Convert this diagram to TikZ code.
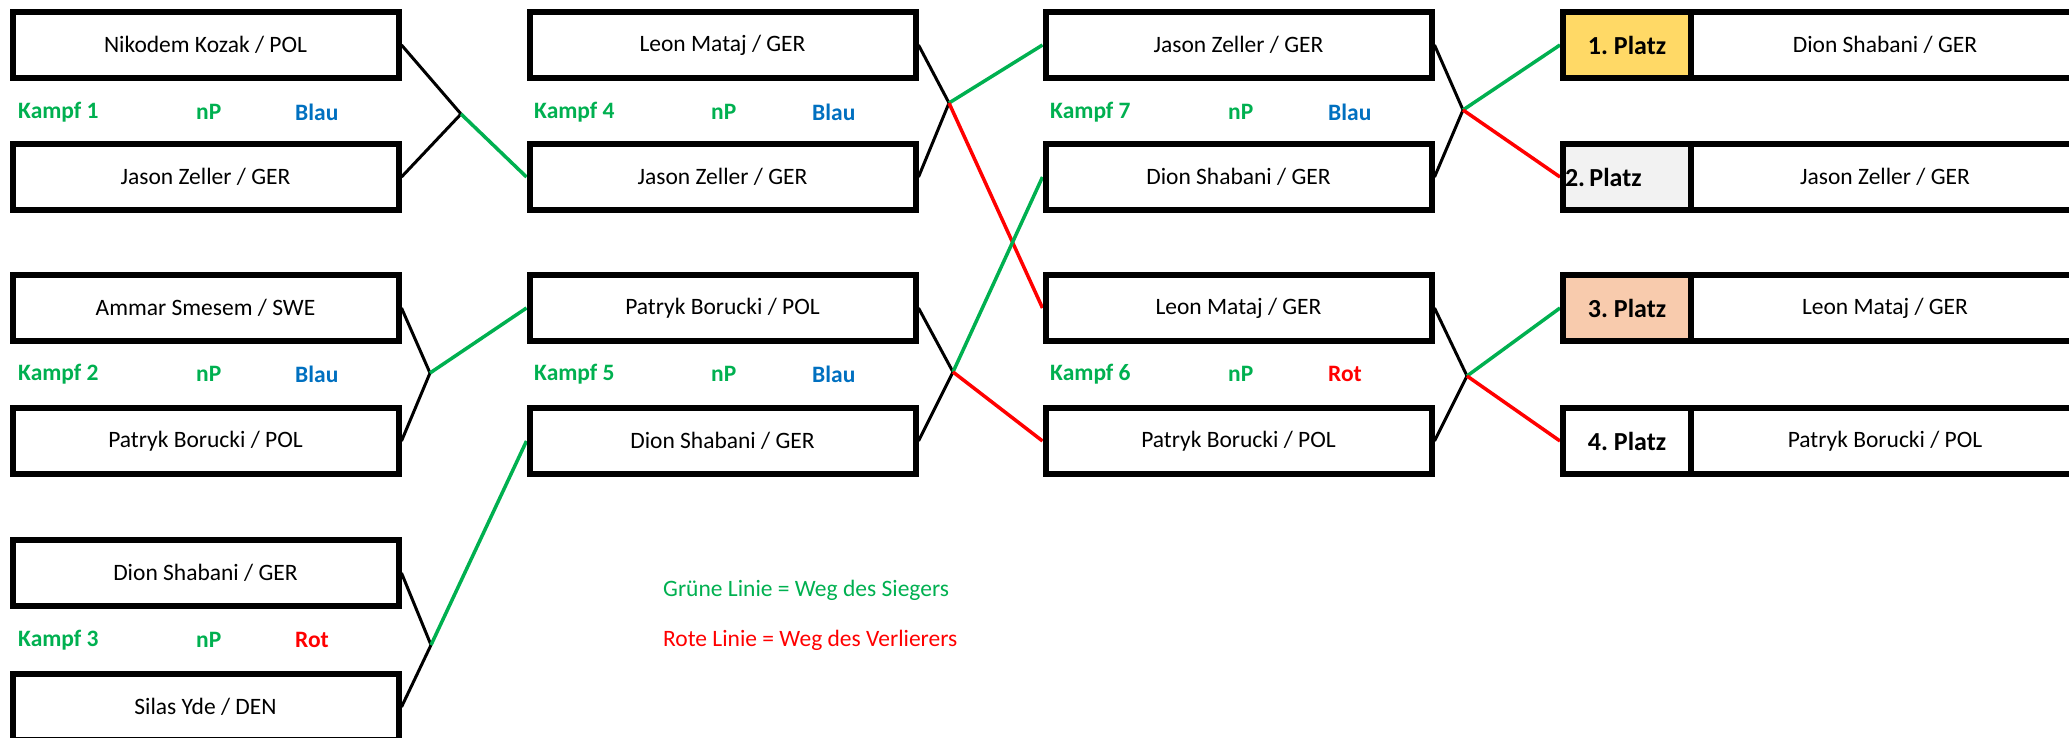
\documentclass[tikz,border=0pt]{standalone}
\usepackage{fontspec}
\setmainfont{Carlito}
\usetikzlibrary{backgrounds}
\definecolor{kgreen}{HTML}{00B050}
\definecolor{kblue}{HTML}{0070C0}
\definecolor{kred}{HTML}{FF0000}
\definecolor{gold}{HTML}{FFD966}
\definecolor{silver}{HTML}{F2F2F2}
\definecolor{bronze}{HTML}{F8CBAD}
\tikzset{
	namebox/.style={draw, line width=6pt, fill=white, minimum width=386pt, minimum height=66pt, inner sep=0pt},
	platzbox/.style={draw, line width=6pt, minimum width=128pt, minimum height=66pt, inner sep=0pt, font=\bfseries\fontsize{26}{30}\selectfont},
	fightlbl/.style={anchor=west, inner sep=0pt, font=\bfseries},
	blackline/.style={line width=3pt},
	winline/.style={line width=3.5pt, draw=kgreen},
	loseline/.style={line width=3.5pt, draw=kred}
}

\begin{document}
\frenchspacing
\fontsize{23.5}{28}\selectfont
\begin{tikzpicture}[x=1pt, y=-1pt]
		%%%%% START %%%%%
		\useasboundingbox (0,0) rectangle (2069,738);
		
		% Runde 1
		\node[namebox] (a1) at (205.5,45) {Nikodem Kozak / POL};
		\node[namebox] (a2) at (205.5,177) {Jason Zeller / GER};
		\node[namebox] (a3) at (205.5,308) {Ammar Smesem / SWE};
		\node[namebox] (a4) at (205.5,441) {Patryk Borucki / POL};
		\node[namebox] (a5) at (205.5,573) {Dion Shabani / GER};
		\node[namebox] (a6) at (205.5,707) {Silas Yde / DEN};
		
		\node[fightlbl, kgreen] (k1) at (18,112) {Kampf 1};
		\node[fightlbl, kgreen] (k1np) at (196,112) {nP};
		\node[fightlbl, kblue] (k1res) at (295,112) {Blau};
		\node[fightlbl, kgreen] (k2) at (18,374) {Kampf 2};
		\node[fightlbl, kgreen] (k2np) at (196,374) {nP};
		\node[fightlbl, kblue] (k2res) at (295,374) {Blau};
		\node[fightlbl, kgreen] (k3) at (18,640) {Kampf 3};
		\node[fightlbl, kgreen] (k3np) at (196,640) {nP};
		\node[fightlbl, kred] (k3res) at (295,640) {Rot};
		
		% Runde 2
		\node[namebox] (b1) at (722.5,45) {Leon Mataj / GER};
		\node[namebox] (b2) at (722.5,177) {Jason Zeller / GER};
		\node[namebox] (b3) at (722.5,308) {Patryk Borucki / POL};
		\node[namebox] (b4) at (722.5,441) {Dion Shabani / GER};
		
		\node[fightlbl, kgreen] (k4) at (534,112) {Kampf 4};
		\node[fightlbl, kgreen] (k4np) at (711,112) {nP};
		\node[fightlbl, kblue] (k4res) at (812,112) {Blau};
		\node[fightlbl, kgreen] (k5) at (534,374) {Kampf 5};
		\node[fightlbl, kgreen] (k5np) at (711,374) {nP};
		\node[fightlbl, kblue] (k5res) at (812,374) {Blau};
		
		% Runde 3
		\node[namebox] (c1) at (1238.5,45) {Jason Zeller / GER};
		\node[namebox] (c2) at (1238.5,177) {Dion Shabani / GER};
		\node[namebox] (c3) at (1238.5,308) {Leon Mataj / GER};
		\node[namebox] (c4) at (1238.5,441) {Patryk Borucki / POL};
		
		\node[fightlbl, kgreen] (k7) at (1050,112) {Kampf 7};
		\node[fightlbl, kgreen] (k7np) at (1228,112) {nP};
		\node[fightlbl, kblue] (k7res) at (1328,112) {Blau};
		\node[fightlbl, kgreen] (k6) at (1050,374) {Kampf 6};
		\node[fightlbl, kgreen] (k6np) at (1228,374) {nP};
		\node[fightlbl, kred] (k6res) at (1328,374) {Rot};
		
		% Platzierungen
		\node[platzbox, fill=gold] (p1) at (1627,45) {1. Platz};
		\node[platzbox, fill=silver, text width=124pt, align=left] (p2) at (1627,177) {\raisebox{-9pt}{2.\,Platz}};
		\node[platzbox, fill=bronze] (p3) at (1627,308) {3. Platz};
		\node[platzbox, fill=white] (p4) at (1627,441) {4. Platz};
		\node[namebox, minimum width=388pt] (d1) at (1885,45) {Dion Shabani / GER};
		\node[namebox, minimum width=388pt] (d2) at (1885,177) {Jason Zeller / GER};
		\node[namebox, minimum width=388pt] (d3) at (1885,308) {Leon Mataj / GER};
		\node[namebox, minimum width=388pt] (d4) at (1885,441) {Patryk Borucki / POL};
		
		% Legende
		\node[anchor=west, inner sep=0pt, kgreen] (lg) at (663,590) {Grüne Linie = Weg des Siegers};
		\node[anchor=west, inner sep=0pt, kred] (lr) at (663,640) {Rote Linie = Weg des Verlierers};
		
		\coordinate (j1) at (461,114);
		\coordinate (j2) at (430,373);
		\coordinate (j3) at (431,645);
		\coordinate (j4) at (949,103);
		\coordinate (j5) at (953,372);
		\coordinate (j6) at (1467,376);
		\coordinate (j7) at (1463,110);
		
		\begin{pgfonlayer}{background}
		\draw[blackline] (a1.east) -- (j1) (a2.east) -- (j1);
		\draw[winline] (j1) -- (b2.west);
		\draw[blackline] (a3.east) -- (j2) (a4.east) -- (j2);
		\draw[winline] (j2) -- (b3.west);
		\draw[blackline] (a5.east) -- (j3) (a6.east) -- (j3);
		\draw[winline] (j3) -- (b4.west);
		
		\draw[blackline] (b1.east) -- (j4) (b2.east) -- (j4);
		\draw[winline] (j4) -- (c1.west);
		\draw[loseline] (j4) -- (c3.west);
		\draw[blackline] (b3.east) -- (j5) (b4.east) -- (j5);
		\draw[winline] (j5) -- (c2.west);
		\draw[loseline] (j5) -- (c4.west);
		
		\draw[blackline] (c1.east) -- (j7) (c2.east) -- (j7);
		\draw[winline] (j7) -- (p1.west);
		\draw[loseline] (j7) -- (p2.west);
		\draw[blackline] (c3.east) -- (j6) (c4.east) -- (j6);
		\draw[winline] (j6) -- (p3.west);
		\draw[loseline] (j6) -- (p4.west);
		\end{pgfonlayer}
		%%%%% END %%%%%
\end{tikzpicture}
\end{document}
